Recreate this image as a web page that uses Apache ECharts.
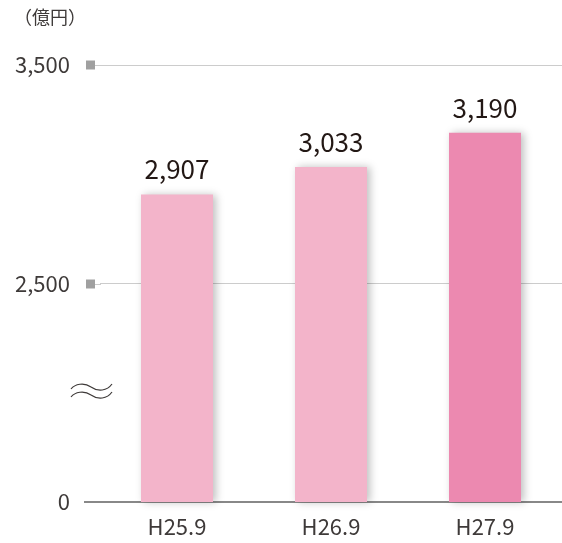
<!DOCTYPE html>
<html>
<head>
<meta charset="utf-8">
<script src="https://cdn.jsdelivr.net/npm/echarts@6/dist/echarts.min.js"></script>
<style>
html, body { margin: 0; padding: 0; background: #fff; }
#chart { width: 562px; height: 543px; }
</style>
</head>
<body>
<div id="chart"></div>
<script>
var categories = ['H25.9', 'H26.9', 'H27.9'];
var values = [2907, 3033, 3190];
var barColors = ['#f3b4ca', '#f3b4ca', '#ec89b0'];
var tickValues = [0, 2500, 3500];
var unitText = '（億円）';

// the axis is broken between 0 and 2500, so values above the break are shifted down
var breakShift = 1500;
function toAxis(v) { return v >= 2500 ? v - breakShift : v; }
function fromAxis(d) { return d === 0 ? 0 : d + breakShift; }

var font = 'Noto Sans CJK JP';
var textColor = '#3e3a39';

var chart = echarts.init(document.getElementById('chart'));

var barData = values.map(function (v, i) {
	return { value: toAxis(v), itemStyle: { color: barColors[i] } };
});

var option = {
	animation: false,
	title: {
		text: unitText,
		left: 14,
		top: 8,
		padding: 0,
		textStyle: { color: textColor, fontSize: 18, fontWeight: 'normal', fontFamily: font }
	},
	grid: { left: 100, right: 0, top: 65, bottom: 41 },
	xAxis: {
		type: 'category',
		data: categories,
		axisLine: { lineStyle: { color: '#888', width: 2 } },
		axisTick: { show: false },
		axisLabel: { color: textColor, fontSize: 22, fontFamily: font, margin: 14 }
	},
	yAxis: {
		type: 'value',
		min: toAxis(tickValues[0]),
		max: toAxis(tickValues[2]),
		interval: 1000,
		axisLine: { show: false },
		axisTick: { show: false },
		axisLabel: {
			color: textColor, fontSize: 22, fontFamily: font, margin: 30,
			formatter: function (d) { return fromAxis(d).toLocaleString('en-US'); }
		},
		splitLine: { show: true, showMinLine: false, lineStyle: { color: '#cccccc', width: 1 } }
	},
	series: [{
		type: 'bar',
		barWidth: 72,
		data: barData,
		itemStyle: {
			shadowBlur: 8,
			shadowColor: 'rgba(0,0,0,0.25)',
			shadowOffsetX: 3,
			shadowOffsetY: 0
		},
		label: {
			show: true,
			position: 'top',
			distance: 12,
			color: '#231815',
			fontSize: 26,
			fontFamily: font,
			formatter: function (p) { return values[p.dataIndex].toLocaleString('en-US'); }
		}
	}]
};
chart.setOption(option);

// small squares at the grid lines, line stubs left of the grid, and the break mark
var graphics = [];
var gridLeft = chart.convertToPixel({ xAxisIndex: 0 }, categories[0]) - 77;
tickValues.forEach(function (t) {
	var y = Math.round(chart.convertToPixel({ yAxisIndex: 0 }, toAxis(t)));
	if (t === 0) {
		graphics.push({ type: 'line', shape: { x1: 84, y1: y, x2: gridLeft + 1, y2: y },
			style: { stroke: '#888', lineWidth: 2 } });
	} else {
		graphics.push({ type: 'rect', shape: { x: 86, y: y - 4.5, width: 9, height: 9 },
			style: { fill: '#a0a0a0' } });
		graphics.push({ type: 'line', shape: { x1: 95, y1: y + 0.5, x2: gridLeft + 1, y2: y + 0.5 },
			style: { stroke: '#cccccc', lineWidth: 1 } });
	}
});
[0, 8].forEach(function (dy) {
	graphics.push({ type: 'bezierCurve', shape: {
			x1: 71, y1: 389 + dy, cpx1: 75, cpy1: 384 + dy, cpx2: 84, cpy2: 382 + dy, x2: 91, y2: 387 + dy
		},
		style: { fill: null, stroke: '#3e3a39', lineWidth: 1.2 } });
	graphics.push({ type: 'bezierCurve', shape: {
			x1: 91, y1: 387 + dy, cpx1: 98, cpy1: 392 + dy, cpx2: 107, cpy2: 391 + dy, x2: 112, y2: 384 + dy
		},
		style: { fill: null, stroke: '#3e3a39', lineWidth: 1.2 } });
});
chart.setOption({ graphic: graphics });
</script>
</body>
</html>
